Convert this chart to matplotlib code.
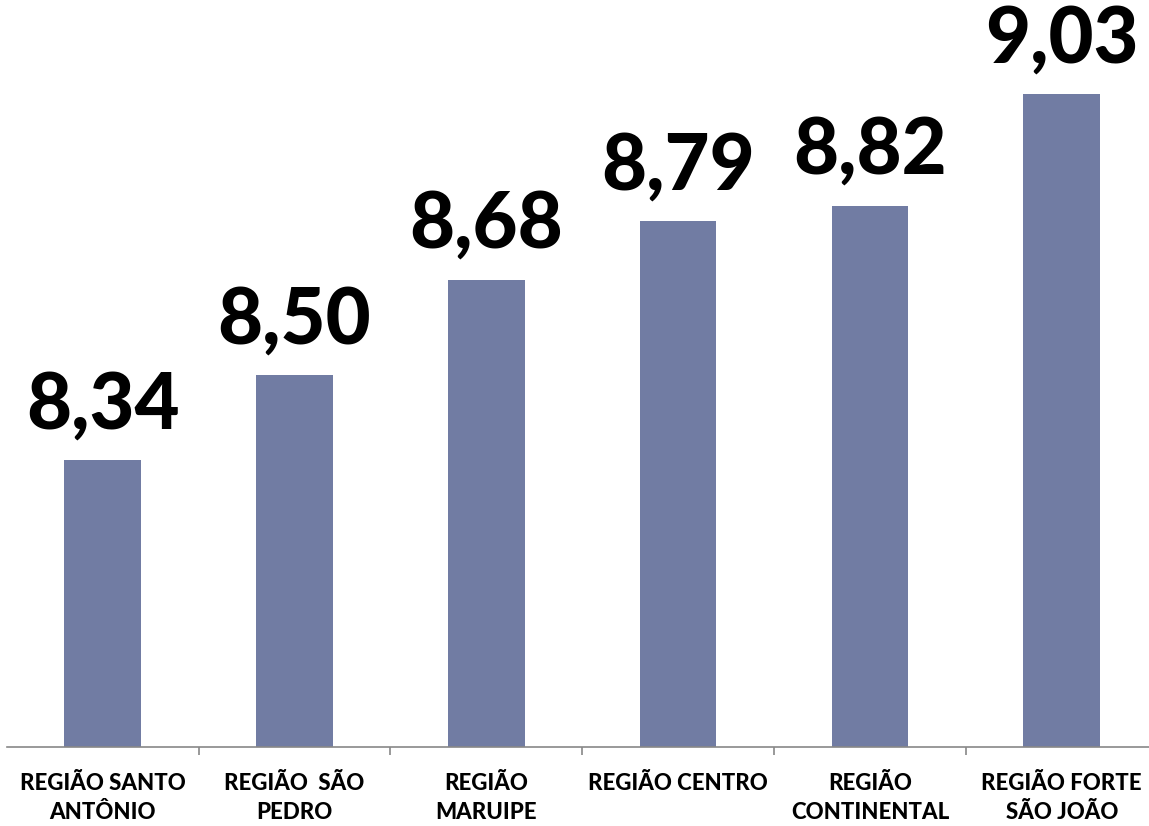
import matplotlib
matplotlib.use("Agg")
import matplotlib.pyplot as plt

categories = ["REGIÃO SANTO\nANTÔNIO", "REGIÃO  SÃO\nPEDRO", "REGIÃO\nMARUIPE",
              "REGIÃO CENTRO", "REGIÃO\nCONTINENTAL", "REGIÃO FORTE\nSÃO JOÃO"]
values = [8.34, 8.50, 8.68, 8.79, 8.82, 9.03]
value_labels = ["8,34", "8,50", "8,68", "8,79", "8,82", "9,03"]

W, H = 1149, 826
fig = plt.figure(figsize=(W / 100, H / 100), dpi=100)
left = 6.8 / W
width = 6 * 191.8 / W
bottom = 1 - 746.5 / H
top = 1 - 4 / H
ax = fig.add_axes([left, bottom, width, top - bottom])

x = list(range(len(values)))
ax.bar(x, values, width=0.4, color="#717CA3", bottom=0)
ax.set_ylim(7.8, 9.2)
ax.set_xlim(-0.5, 5.5)

for xi, v, lab in zip(x, values, value_labels):
    ax.annotate(lab, (xi, v), xytext=(0, 23), textcoords="offset points",
                ha="center", va="baseline", fontsize=56, fontweight="black",
                family="Lato", color="black")

for s in ["top", "right", "left"]:
    ax.spines[s].set_visible(False)
ax.spines["bottom"].set_color("#888888")
ax.spines["bottom"].set_linewidth(1.2)
ax.set_yticks([])

ax.set_xticks(x)
ax.set_xticklabels(categories, fontsize=16, fontweight="black", family="Lato",
                   linespacing=1.5)
ax.tick_params(axis="x", which="major", length=0, pad=19)
ax.set_xticks([i + 0.5 for i in range(len(values) - 1)], minor=True)
ax.tick_params(axis="x", which="minor", length=6, width=1.2, color="#888888",
               direction="out")

fig.savefig("out.png", dpi=100)
